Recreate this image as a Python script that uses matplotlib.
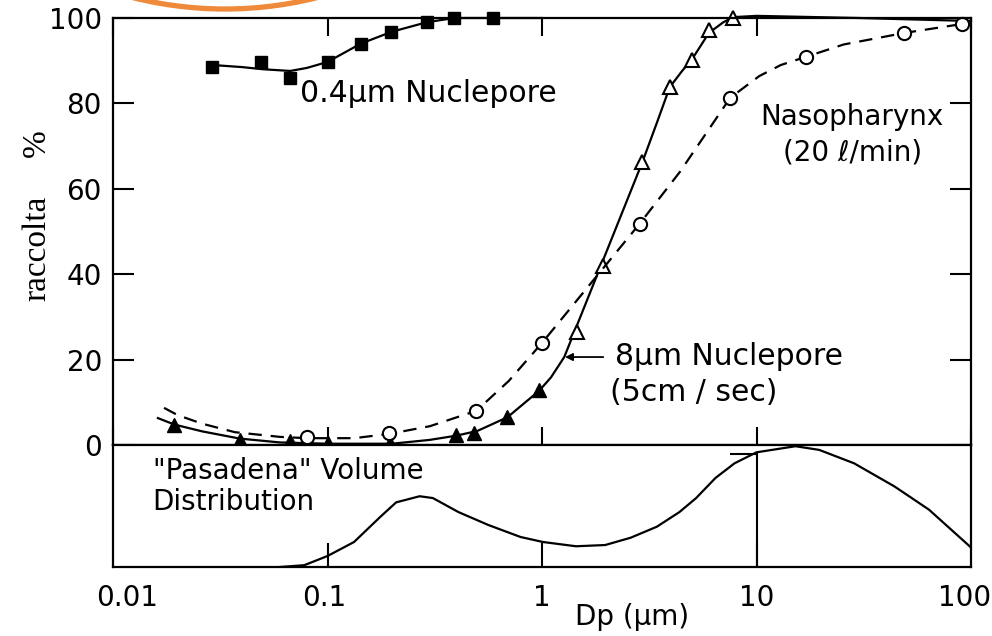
import matplotlib
matplotlib.use("Agg")
import matplotlib.pyplot as plt
import matplotlib.transforms as mtrans
from matplotlib.patches import Arc

# ---------------- data ----------------
# 0.4 um Nuclepore (filled squares)
nuc04_x = [0.029, 0.049, 0.067, 0.10, 0.143, 0.198, 0.292, 0.39, 0.59]
nuc04_y = [88.5, 89.7, 86.0, 89.7, 94.0, 96.7, 99.0, 100.0, 100.0]
nuc04_line_x = [0.029, 0.04, 0.05, 0.067, 0.08, 0.10, 0.143, 0.20, 0.29, 0.39, 0.59, 1.0]
nuc04_line_y = [89.0, 88.5, 88.0, 87.6, 88.3, 89.7, 94.0, 96.8, 99.0, 100.0, 100.0, 100.0]

# 8 um Nuclepore (filled triangles at small Dp, open triangles at large Dp)
nuc8_fill_x = [0.0193, 0.039, 0.067, 0.10, 0.196, 0.396, 0.484, 0.69, 0.97]
nuc8_fill_y = [4.7, 1.2, 0.9, 0.5, 0.5, 2.3, 2.8, 6.6, 12.9]
nuc8_open_x = [1.46, 1.93, 2.94, 3.94, 5.0, 6.0, 7.8]
nuc8_open_y = [26.5, 42.0, 66.3, 83.8, 90.2, 97.2, 100.0]
nuc8_line_x = [0.0162, 0.0193, 0.026, 0.039, 0.06, 0.10, 0.20, 0.30, 0.40, 0.50, 0.69,
               0.97, 1.1, 1.27, 2.94, 3.44, 3.94, 4.5, 5.0, 6.0, 7.0, 7.8, 10, 30, 100]
nuc8_line_y = [6.3, 4.8, 3.2, 1.5, 0.6, 0.3, 0.3, 1.2, 2.2, 3.3, 6.5,
               12.7, 15.8, 20.6, 66.3, 75.6, 83.8, 87.6, 90.3, 96.5, 99.0, 100.2, 100.5, 100.0, 99.3]

# Nasopharynx 20 l/min (open circles, dashed)
naso_x = [0.080, 0.194, 0.494, 1.0, 2.85, 7.54, 17.0, 48.9, 91.0]
naso_y = [1.9, 2.8, 8.0, 23.9, 51.8, 81.3, 90.9, 96.5, 98.6]
naso_line_x = [0.0173, 0.02, 0.026, 0.037, 0.06, 0.08, 0.133, 0.194, 0.30, 0.494, 0.70, 1.0,
               2.85, 4.4, 7.54, 10.3, 13.0, 17.0, 25.5, 48.9, 91.0]
naso_line_y = [8.7, 7.0, 5.0, 3.0, 1.9, 1.6, 1.6, 2.6, 4.4, 8.0, 15.0, 23.9,
               51.8, 64.0, 81.3, 86.4, 89.0, 90.9, 93.8, 96.5, 98.6]

# "Pasadena" volume distribution (relative units)
pas_x = [0.060, 0.078, 0.10, 0.133, 0.176, 0.209, 0.269, 0.31, 0.408, 0.561, 0.794, 1.01,
         1.44, 1.97, 2.59, 3.43, 4.37, 5.23, 6.44, 7.9, 10, 15.2, 19.6, 28.5, 44, 63.7, 100]
pas_y = [0.0, 0.015, 0.09, 0.205, 0.41, 0.53, 0.58, 0.565, 0.45, 0.345, 0.246, 0.205,
         0.17, 0.18, 0.24, 0.33, 0.45, 0.565, 0.73, 0.85, 0.94, 0.99, 0.96, 0.85, 0.66, 0.47, 0.16]

x_ticks = [0.01, 0.1, 1, 10, 100]
x_ticklabels = ["0.01", "0.1", "1", "10", "100"]
y_ticks = [0, 20, 40, 60, 80, 100]
y_ticklabels = ["0", "20", "40", "60", "80", "100"]

# ---------------- figure ----------------
W, H = 992, 636
fig = plt.figure(figsize=(W / 100, H / 100), dpi=100)
FONT = "DejaVu Sans"
FS = 20

L, R = 113, 971
T1, B1, B2 = 18, 445, 567
ax = fig.add_axes([L / W, 1 - B1 / H, (R - L) / W, (B1 - T1) / H])
ax2 = fig.add_axes([L / W, 1 - B2 / H, (R - L) / W, (B2 - B1) / H], sharex=ax)

for a in (ax, ax2):
    a.set_xscale("log")
    a.set_xlim(0.01, 100)
    for s in a.spines.values():
        s.set_linewidth(1.6)
        s.set_color("black")
    a.minorticks_off()

ax.set_ylim(0, 100)
ax2.set_ylim(0, 1.0)

lw = 1.6
# 0.4 um Nuclepore
ax.plot(nuc04_line_x, nuc04_line_y, color="black", lw=lw, clip_on=False)
ax.plot(nuc04_x, nuc04_y, ls="none", marker="s", ms=8, color="black", clip_on=False)
# 8 um Nuclepore
ax.plot(nuc8_line_x, nuc8_line_y, color="black", lw=lw, clip_on=False)
ax.plot(nuc8_fill_x, nuc8_fill_y, ls="none", marker="^", ms=9.5, color="black", clip_on=False)
ax.plot(nuc8_open_x, nuc8_open_y, ls="none", marker="^", ms=10.5, mfc="white",
        mec="black", mew=1.5, clip_on=False)
# Nasopharynx
ax.plot(naso_line_x, naso_line_y, color="black", lw=lw, ls=(0, (6, 4)), clip_on=False)
ax.plot(naso_x, naso_y, ls="none", marker="o", ms=9.5, mfc="white", mec="black",
        mew=1.5, clip_on=False)

# ticks upper panel
ax.set_yticks(y_ticks)
ax.set_yticklabels(y_ticklabels, fontsize=FS, family=FONT)
ax.tick_params(axis="y", direction="in", length=15, width=1.5, pad=8,
               left=True, right=True, labelleft=True)
ax.tick_params(axis="x", which="both", direction="in", length=13, width=1.5,
               top=True, bottom=True, labelbottom=False)
ax.set_xticks([0.1, 1, 10])

# ticks lower panel
ax2.set_yticks([])
ax2.set_xticks(x_ticks)
ax2.set_xticklabels(x_ticklabels, fontsize=FS, family=FONT)
ax2.tick_params(axis="x", direction="in", length=17, width=1.5, pad=12)
for t in ax2.xaxis.get_major_ticks():
    if t.get_loc() in (0.01, 100):
        t.tick1line.set_visible(False)
# label offsets as in the reference (0.01 sits right of the axis corner)
lbls = ax2.get_xticklabels()
offs = {"0.01": 14, "0.1": -3, "100": -6}
for lab in lbls:
    dx = offs.get(lab.get_text(), 0)
    if dx:
        lab.set_transform(lab.get_transform() +
                          mtrans.ScaledTranslation(dx / 100, 0, fig.dpi_scale_trans))

# Pasadena distribution
ax2.plot(pas_x, pas_y, color="black", lw=lw)
ax2.vlines(10, 0, pas_y[pas_x.index(10)], color="black", lw=1.5)
ax2.hlines(pas_y[pas_x.index(10)] - 0.01, 7.5, 10, color="black", lw=1.5)

# annotations
ax.text(0.0743, 82.4, "0.4μm Nuclepore", fontsize=21.5, family=FONT, ha="left", va="center")
ax.text(27.9, 76.8, "Nasopharynx", fontsize=20, family=FONT, ha="center", va="center")
ax.text(27.9, 68.4, "(20 ℓ/min)", fontsize=20, family=FONT, ha="center", va="center")
ax.text(2.19, 20.8, "8μm Nuclepore", fontsize=21.5, family=FONT, ha="left", va="center")
ax.text(2.08, 12.2, "(5cm / sec)", fontsize=21.5, family=FONT, ha="left", va="center")
ax.annotate("", xy=(1.28, 20.6), xytext=(1.93, 20.6),
            arrowprops=dict(arrowstyle="-|>", color="black", lw=1.3,
                            mutation_scale=11, shrinkA=0, shrinkB=0))
ax2.text(0.0153, 0.79, "\"Pasadena\" Volume", fontsize=FS, family=FONT, ha="left", va="center")
ax2.text(0.0153, 0.53, "Distribution", fontsize=FS, family=FONT, ha="left", va="center")

fig.text(632 / W, 1 - 617 / H, "Dp (μm)", fontsize=FS, family=FONT, ha="center", va="center")
fig.text(37 / W, 1 - 248 / H, "raccolta", fontsize=24, family="Liberation Serif",
         rotation=90, ha="center", va="center")
fig.text(37 / W, 1 - 143 / H, "%", fontsize=24, family="Liberation Serif",
         rotation=90, ha="center", va="center")

# orange scan mark at top
fig.patches.append(Arc((2.25, 10.05), 7.56, 7.56, theta1=-106, theta2=-74,
                       transform=fig.dpi_scale_trans, color="#EE8A3A", lw=3.8))

fig.savefig("out.png", dpi=100)
